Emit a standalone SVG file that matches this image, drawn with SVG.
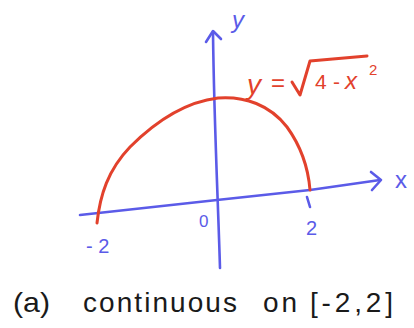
<svg xmlns="http://www.w3.org/2000/svg" width="414" height="328" viewBox="0 0 414 328">
<style>
.ax{fill:none;stroke:#5b5be8;stroke-width:2.6;stroke-linecap:round;stroke-linejoin:round}
.cv{fill:none;stroke:#e2412c;stroke-width:3;stroke-linecap:round;stroke-linejoin:round}
.bt{fill:#5b5be8;font-family:"Liberation Sans",Arial,sans-serif}
.rt{fill:#e2412c;font-family:"Liberation Sans",Arial,sans-serif}
.cap{fill:#1a1a1a;font-family:"Liberation Sans",Arial,sans-serif;font-size:28px}
</style>
<rect width="414" height="328" fill="#ffffff"/>
<g id="connectors">
<path class="ax" d="M80,215 L217,200 L310,190 L380,180"/>
<path class="ax" d="M371,172 L381,180 L372,190"/>
<path class="ax" d="M220,268 C218,200 214,120 213,33"/>
<path class="ax" d="M206,42 L213,31 L221,39"/>
<path class="ax" d="M307,197 L310,207"/>
</g>
<g id="curve">
<path class="cv" d="M97,223 C100,195 108,170 130,147 C155,122 185,102 218,98 C245,96 270,105 287,127 C300,145 308,165 310,190"/>
</g>
<g id="labels">
<text class="bt" x="232" y="28" font-size="24" font-style="italic">y</text>
<text class="bt" x="395" y="188" font-size="24">x</text>
<text class="bt" x="199" y="227" font-size="17">0</text>
<text class="bt" x="306" y="235" font-size="20">2</text>
<text class="bt" x="86" y="253" font-size="20">- 2</text>
</g>
<g id="formula">
<text class="rt" x="247" y="94" font-size="28" font-style="italic">y</text>
<text class="rt" x="271" y="91" font-size="24">=</text>
<path class="cv" stroke-width="2.6" d="M292,82 L300,95 L310,61 L367,56"/>
<text class="rt" x="315" y="89" font-size="21">4</text>
<text class="rt" x="333" y="89" font-size="21">-</text>
<text class="rt" x="345" y="89" font-size="24" font-style="italic">x</text>
<text class="rt" x="369" y="75" font-size="15">2</text>
</g>
<g id="caption">
<text class="cap" x="13" y="312" textLength="37" lengthAdjust="spacingAndGlyphs">(a)</text>
<text class="cap" x="83" y="312" textLength="154" lengthAdjust="spacing">continuous</text>
<text class="cap" x="263" y="312" textLength="34" lengthAdjust="spacing">on</text>
<text class="cap" x="310" y="312" textLength="83" lengthAdjust="spacing">[-2,2]</text>
</g>
</svg>
